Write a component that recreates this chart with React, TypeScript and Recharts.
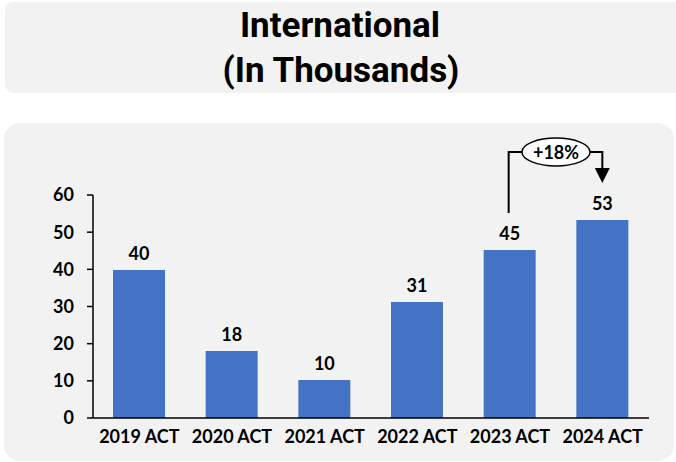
import React from 'react';
import { BarChart, Bar, XAxis, YAxis, LabelList } from 'recharts';

const categories = ['2019 ACT', '2020 ACT', '2021 ACT', '2022 ACT', '2023 ACT', '2024 ACT'];
const values = [39.8, 18.0, 10.2, 31.2, 45.2, 53.3];
const yTicks = [0, 10, 20, 30, 40, 50, 60];
const titleLines = ['International', '(In Thousands)'];
const growthLabel = '+18%';
const growthFrom = 4;
const growthTo = 5;

const data = categories.map((c, i) => ({ name: c, value: values[i] }));

const W = 676;
const H = 462;
const MARGIN = { top: 195, right: 27, bottom: 14, left: 0 };
const Y_AXIS_W = 93;
const PLOT_W = W - MARGIN.left - Y_AXIS_W - MARGIN.right;
const STEP = PLOT_W / categories.length;
const FONT = 'Lato, "Open Sans", sans-serif';

const renderLabel = (props: any) => {
  const vb = props.viewBox || {};
  const x = props.x ?? vb.x;
  const y = props.y ?? vb.y;
  const width = props.width ?? vb.width;
  const height = props.height ?? vb.height;
  const value = props.value;
  const index = props.index;
  const cx = x + width / 2;
  const bottom = y + height;
  const ppu = value ? height / value : 1;
  const plotTop = bottom - yTicks[yTicks.length - 1] * ppu;
  const hy = plotTop - 43;
  const rx = 34;
  const ry = 14;
  return (
    <g>
      <text x={cx} y={y - 10} textAnchor="middle" fontFamily={FONT} fontWeight={700} fontSize={18} fill="#000">
        {Math.round(value)}
      </text>
      {index === growthFrom && (
        <polyline
          points={`${cx - 1},${y - 37} ${cx - 1},${hy} ${cx + STEP / 2 - rx},${hy}`}
          fill="none"
          stroke="#000"
          strokeWidth={2}
        />
      )}
      {index === growthTo && (
        <g>
          <polyline
            points={`${cx - STEP / 2 + rx},${hy} ${cx},${hy} ${cx},${y - 52}`}
            fill="none"
            stroke="#000"
            strokeWidth={2}
          />
          <polygon points={`${cx - 7.5},${y - 52} ${cx + 7.5},${y - 52} ${cx},${y - 37}`} fill="#000" />
          <ellipse cx={cx - STEP / 2} cy={hy} rx={rx} ry={ry} fill="#fff" stroke="#000" strokeWidth={1.5} />
          <text x={cx - STEP / 2} y={hy + 6.5} textAnchor="middle" fontFamily={FONT} fontWeight={700} fontSize={18} fill="#000">
            {growthLabel}
          </text>
        </g>
      )}
    </g>
  );
};

export default function App() {
  return (
    <div style={{ position: 'absolute', left: 0, top: 0, width: W, height: H, background: '#fff', overflow: 'hidden' }}>
      <div style={{ position: 'absolute', left: 5, top: 2, width: 700, height: 91, background: '#f2f2f2', borderRadius: 8 }} />
      <div style={{ position: 'absolute', left: 4, top: 123, width: 670, height: 338, background: '#f2f2f2', borderRadius: 16 }} />
      <svg style={{ position: 'absolute', left: 0, top: 0 }} width={W} height={100}>
        <text x={340} y={37} textAnchor="middle" fontFamily="Roboto, sans-serif" fontWeight={700} fontSize={35} fill="#000">
          {titleLines[0]}
        </text>
        <text x={341} y={82} textAnchor="middle" fontFamily="Roboto, sans-serif" fontWeight={700} fontSize={35} fill="#000">
          {titleLines[1]}
        </text>
      </svg>
      <div style={{ position: 'absolute', left: 0, top: 0 }}>
        <BarChart width={W} height={H} data={data} margin={MARGIN}>
          <XAxis
            dataKey="name"
            tickLine={false}
            tickSize={0}
            tickMargin={12}
            axisLine={{ stroke: '#000', strokeWidth: 1.5 }}
            height={30}
            interval={0}
            tick={{ fontFamily: FONT, fontWeight: 700, fontSize: 18, fill: '#000' }}
          />
          <YAxis
            width={Y_AXIS_W}
            domain={[0, 60]}
            ticks={yTicks}
            interval={0}
            tickSize={6}
            tickMargin={13}
            axisLine={{ stroke: '#000', strokeWidth: 1.5 }}
            tickLine={{ stroke: '#000', strokeWidth: 1.5 }}
            tick={{ fontFamily: FONT, fontWeight: 700, fontSize: 18, fill: '#000' }}
          />
          <Bar dataKey="value" fill="#4472C4" barSize={52} isAnimationActive={false}>
            <LabelList dataKey="value" content={renderLabel} />
          </Bar>
        </BarChart>
      </div>
    </div>
  );
}
